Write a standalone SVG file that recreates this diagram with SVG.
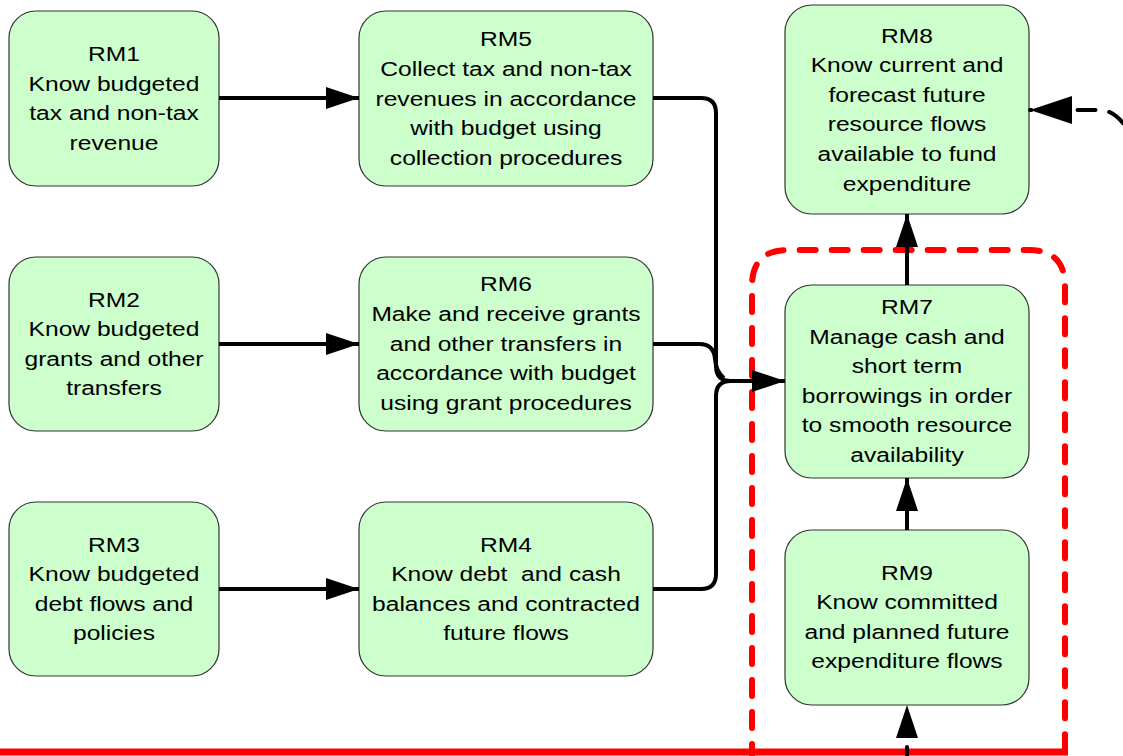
<svg xmlns="http://www.w3.org/2000/svg" width="1123" height="756" viewBox="0 0 1123 756">
<style>
.node rect{fill:#ccffcc;stroke:#333;stroke-width:1.2}
.node text{font-family:"Liberation Sans",Arial,sans-serif;font-size:20px;fill:#000;text-anchor:middle}
.conn{fill:none;stroke:#000;stroke-width:4}
.red{fill:none;stroke:#ff0000}
</style>
<defs>
<marker id="ah" markerUnits="userSpaceOnUse" markerWidth="34" markerHeight="22" refX="33" refY="11" orient="auto"><path d="M0,0 L33,11 L0,22 z" fill="#000"/></marker>
<marker id="ahb" markerUnits="userSpaceOnUse" markerWidth="43" markerHeight="28" refX="42" refY="14" orient="auto-start-reverse"><path d="M0,0 L42,14 L0,28 z" fill="#000"/></marker>
</defs>
<g id="boundary">
<path class="red" d="M752,760 V286 Q752,250 788,250 H1029 Q1065,250 1065,286 V752" stroke-width="6" stroke-dasharray="16 16" stroke-linecap="round"/>
<path class="red" d="M0,752 H1068" stroke-width="7"/>
</g>
<g id="RM1" class="node"><rect x="9" y="11" width="210" height="175" rx="27"/>
<g transform="translate(114 0) scale(1.23 1)"><text x="0" y="61">RM1</text><text x="0" y="91">Know budgeted</text><text x="0" y="120">tax and non-tax</text><text x="0" y="150">revenue</text></g></g>
<g id="RM5" class="node"><rect x="359" y="11" width="294" height="175" rx="27"/>
<g transform="translate(506 0) scale(1.23 1)"><text x="0" y="46.5">RM5</text><text x="0" y="76">Collect tax and non-tax</text><text x="0" y="106">revenues in accordance</text><text x="0" y="135">with budget using</text><text x="0" y="165">collection procedures</text></g></g>
<g id="RM2" class="node"><rect x="9" y="257" width="210" height="174" rx="27"/>
<g transform="translate(114 0) scale(1.23 1)"><text x="0" y="307">RM2</text><text x="0" y="336">Know budgeted</text><text x="0" y="366">grants and other</text><text x="0" y="395">transfers</text></g></g>
<g id="RM6" class="node"><rect x="359" y="257" width="294" height="174" rx="27"/>
<g transform="translate(506 0) scale(1.23 1)"><text x="0" y="291.5">RM6</text><text x="0" y="321">Make and receive grants</text><text x="0" y="351">and other transfers in</text><text x="0" y="380">accordance with budget</text><text x="0" y="410">using grant procedures</text></g></g>
<g id="RM3" class="node"><rect x="9" y="502" width="210" height="174" rx="27"/>
<g transform="translate(114 0) scale(1.23 1)"><text x="0" y="552">RM3</text><text x="0" y="581">Know budgeted</text><text x="0" y="611">debt flows and</text><text x="0" y="640">policies</text></g></g>
<g id="RM4" class="node"><rect x="359" y="502" width="294" height="174" rx="27"/>
<g transform="translate(506 0) scale(1.23 1)"><text x="0" y="552">RM4</text><text x="0" y="581">Know debt&#160; and cash</text><text x="0" y="611">balances and contracted</text><text x="0" y="640">future flows</text></g></g>
<g id="RM8" class="node"><rect x="785" y="5" width="244" height="209" rx="27"/>
<g transform="translate(907 0) scale(1.23 1)"><text x="0" y="42.7">RM8</text><text x="0" y="72.3">Know current and</text><text x="0" y="101.9">forecast future</text><text x="0" y="131.5">resource flows</text><text x="0" y="161.1">available to fund</text><text x="0" y="190.7">expenditure</text></g></g>
<g id="RM7" class="node"><rect x="785" y="285" width="244" height="193" rx="27"/>
<g transform="translate(907 0) scale(1.23 1)"><text x="0" y="314">RM7</text><text x="0" y="344">Manage cash and</text><text x="0" y="373">short term</text><text x="0" y="403">borrowings in order</text><text x="0" y="432">to smooth resource</text><text x="0" y="462">availability</text></g></g>
<g id="RM9" class="node"><rect x="785" y="530" width="244" height="175" rx="27"/>
<g transform="translate(907 0) scale(1.23 1)"><text x="0" y="580">RM9</text><text x="0" y="609">Know committed</text><text x="0" y="639">and planned future</text><text x="0" y="668">expenditure flows</text></g></g>
<g id="connectors">
<path class="conn" d="M219,98 H359" marker-end="url(#ah)"/>
<path class="conn" d="M219,344 H359" marker-end="url(#ah)"/>
<path class="conn" d="M219,589 H359" marker-end="url(#ah)"/>
<path class="conn" d="M653,98 H701 Q716,98 716,113 V366 Q716,381 731,381 H785" marker-end="url(#ah)"/>
<path class="conn" d="M653,344 H699 Q714,344 715,359 Q716,372 724,378"/>
<path class="conn" d="M653,589 H701 Q716,589 716,574 V396 Q716,381 731,381"/>
<path class="conn" d="M907,285 V214" marker-end="url(#ah)"/>
<path class="conn" d="M907,530 V478" marker-end="url(#ah)"/>
<path class="conn" d="M907,760 V705" stroke-width="5" stroke-dasharray="13 60" stroke-linecap="round" marker-end="url(#ah)"/>
<path class="conn" d="M1030,110 H1100 Q1115,110 1128,130" stroke-width="5" stroke-dasharray="18 14" stroke-dashoffset="16.5" stroke-linecap="round" marker-start="url(#ahb)"/>
</g>
</svg>
